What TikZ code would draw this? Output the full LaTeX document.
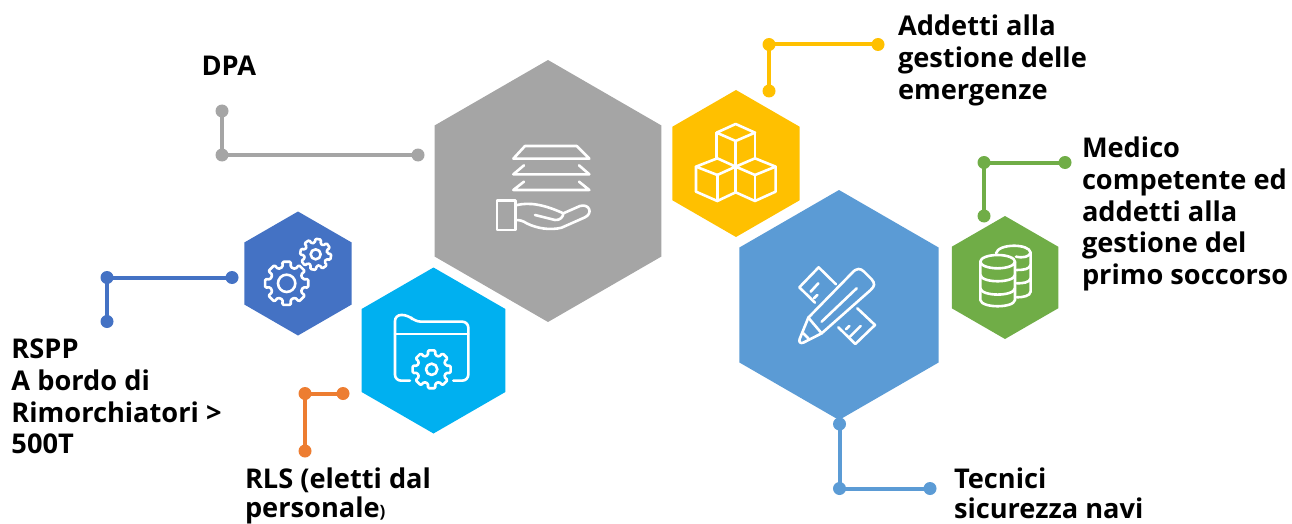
\documentclass[tikz,border=0pt]{standalone}
\usepackage{fontspec}
\setmainfont{Open Sans}
\usetikzlibrary{shapes.geometric}
\definecolor{cgray}{HTML}{A5A5A5}
\definecolor{cyellow}{HTML}{FFC000}
\definecolor{clblue}{HTML}{5B9BD5}
\definecolor{cgreen}{HTML}{70AD47}
\definecolor{cdblue}{HTML}{4472C4}
\definecolor{ccyan}{HTML}{00B0F0}
\definecolor{corange}{HTML}{ED7D31}
\tikzset{
  hexa/.style={regular polygon,regular polygon sides=6,shape border rotate=30,draw=none,fill=#1,inner sep=0pt,outer sep=0pt},
  dotnode/.style={circle,fill=#1,draw=none,minimum size=13pt,inner sep=0pt,outer sep=0pt},
  conn/.style={draw=#1,line width=4pt},
  lab/.style={anchor=base west,inner sep=0pt,outer sep=0pt,align=left,font=\fontsize{27.2pt}{31.7pt}\selectfont\bfseries},
  iconline/.style={draw=white,line width=2.6pt,line cap=round,line join=round},
  zoomed/.style={shift={(#1)},x=0.3333pt,y=-0.3333pt}
}
\newcommand{\gearicon}[6]{% cx cy outer inner hole start
  \draw[iconline,rounded corners=1.2pt] ({#1+#4*cos(#6-14)},{#2+#4*sin(#6-14)})
    \foreach \ga in {0,45,...,315} {
      -- ({#1+#3*cos(#6+\ga-11)},{#2+#3*sin(#6+\ga-11)})
      -- ({#1+#3*cos(#6+\ga+11)},{#2+#3*sin(#6+\ga+11)})
      -- ({#1+#4*cos(#6+\ga+14)},{#2+#4*sin(#6+\ga+14)})
      -- ({#1+#4*cos(#6+\ga+31)},{#2+#4*sin(#6+\ga+31)})
    } -- cycle;
  \draw[iconline] (#1,#2) circle[radius=#5];
}
\begin{document}
\begin{tikzpicture}[x=1pt,y=-1pt]
\useasboundingbox (0,0) rectangle (1292,524);
% hexagons
\node[hexa=cgray,minimum size=262pt] (hgray) at (548,191) {};
\node[hexa=cyellow,minimum size=147pt] (hyellow) at (736,163.5) {};
\node[hexa=clblue,minimum size=230pt] (hlblue) at (839,305) {};
\node[hexa=cgreen,minimum size=123pt] (hgreen) at (1005,277.5) {};
\node[hexa=cdblue,minimum size=124pt] (hdblue) at (298,273.5) {};
\node[hexa=ccyan,minimum size=166pt] (hcyan) at (433.5,350.5) {};
% connectors
\node[dotnode=cgray] (g1) at (222,111) {};
\node[dotnode=cgray] (g2) at (222,155) {};
\node[dotnode=cgray] (g3) at (418,155) {};
\draw[conn=cgray] (g1.center) -- (g2.center) -- (g3.center);
\node[dotnode=cyellow] (y1) at (769,44.5) {};
\node[dotnode=cyellow] (y2) at (878,44.5) {};
\node[dotnode=cyellow] (y3) at (769,91) {};
\draw[conn=cyellow] (y2.center) -- (y1.center) -- (y3.center);
\node[dotnode=cgreen] (v1) at (984,162.5) {};
\node[dotnode=cgreen] (v2) at (1065,162.5) {};
\node[dotnode=cgreen] (v3) at (984,216) {};
\draw[conn=cgreen] (v2.center) -- (v1.center) -- (v3.center);
\node[dotnode=clblue] (b1) at (839.5,424) {};
\node[dotnode=clblue] (b2) at (839.5,488.5) {};
\node[dotnode=clblue] (b3) at (930,488.5) {};
\draw[conn=clblue] (b1.center) -- (b2.center) -- (b3.center);
\node[dotnode=cdblue] (d1) at (107,277.5) {};
\node[dotnode=cdblue] (d2) at (232,277.5) {};
\node[dotnode=cdblue] (d3) at (107,321.5) {};
\draw[conn=cdblue] (d2.center) -- (d1.center) -- (d3.center);
\node[dotnode=corange] (o1) at (305,393.5) {};
\node[dotnode=corange] (o2) at (343,393.5) {};
\node[dotnode=corange] (o3) at (305,451) {};
\draw[conn=corange] (o2.center) -- (o1.center) -- (o3.center);
% labels
\node[lab] (tdpa) at (201.5,75.5) {DPA};
\node[lab,anchor=north west] (tadd) at (898,15) {Addetti alla\\gestione delle\\emergenze};
\node[lab,anchor=north west] (tmed) at (1082,137) {Medico\\competente ed\\addetti alla\\gestione del\\primo soccorso};
\node[lab,anchor=north west] (trspp) at (11.5,339) {RSPP\\A bordo di\\Rimorchiatori >\\500T};
\node[lab,anchor=north west] (trls) at (245,467.5) {RLS (eletti dal\\[-2pt]personale{\fontsize{17pt}{20pt}\selectfont )}};
\node[lab,anchor=north west] (ttec) at (954,468) {Tecnici\\[-2pt]sicurezza navi};
% icon: documents on hand
\begin{scope}[zoomed={430,60}]
\draw[iconline] (250,296) -- (478,296) -- (440,258) -- (285,258) -- cycle;
\draw[iconline] (282,316) -- (250,343) -- (478,343) -- (447,316);
\draw[iconline] (282,365) -- (250,390) -- (478,390) -- (447,365);
\draw[iconline] (201,422) rectangle (257,510);
\draw[iconline] (257,436) .. controls (300,425) and (345,435) .. (400,460) -- (450,438) .. controls (478,430) and (490,460) .. (465,472) -- (395,503) .. controls (360,512) and (320,505) .. (290,490) .. controls (280,483) and (270,480) .. (257,480);
\draw[iconline] (315,465) -- (375,480) .. controls (390,482) and (400,470) .. (400,460);
\end{scope}
% icon: cubes
\begin{scope}[zoomed={430,60}]
\draw[iconline] (917,192) -- (975,218) -- (917,243) -- (860,218) -- cycle;
\draw[iconline] (860,218) -- (860,295);
\draw[iconline] (975,218) -- (975,295);
\draw[iconline] (917,243) -- (917,397);
\draw[iconline] (862,295) -- (917,320) -- (862,345) -- (798,320) -- cycle;
\draw[iconline] (798,320) -- (798,395) -- (862,423) -- (917,397);
\draw[iconline] (862,345) -- (862,423);
\draw[iconline] (975,295) -- (1037,320) -- (975,345) -- (917,320) -- cycle;
\draw[iconline] (1037,320) -- (1037,395) -- (975,423) -- (917,397);
\draw[iconline] (975,345) -- (975,423);
\end{scope}
% icon: gears and folder
\begin{scope}[zoomed={240,200}]
\gearicon{140}{250}{66}{50}{26}{0}
\gearicon{227}{163}{47}{35}{15}{10}
\draw[iconline,rounded corners=6pt] (510,542) -- (465,542) -- (465,345) -- (505,345) -- (525,365) -- (685,365) -- (685,542) -- (640,542);
\draw[iconline] (465,402) -- (685,402);
\gearicon{575}{508}{58}{44}{17}{0}
\end{scope}
% icon: pencil and ruler
\begin{scope}[zoomed={740,190}]
\draw[iconline] (288,283) -- (236,232) -- (178,292) -- (225,338);
\draw[iconline] (212,305) -- (235,280);
\draw[iconline] (222,325) -- (232,315);
\draw[iconline] (352,355) -- (405,405) -- (346,462) -- (295,412);
\draw[iconline] (330,440) -- (362,408);
\draw[iconline] (318,418) -- (328,408);
\draw[iconline] (205,383) -- (335,250) .. controls (350,232) and (362,235) .. (372,245) -- (395,268) .. controls (405,280) and (405,288) .. (392,300) -- (245,430) -- (190,458) .. controls (180,462) and (176,455) .. (179,447) -- cycle;
\draw[iconline] (245,395) -- (350,295);
\draw[iconline] (205,383) -- (245,430);
\draw[iconline] (190,430) -- (205,445);
\end{scope}
% icon: database
\begin{scope}[zoomed={740,190}]
\draw[iconline] (773,215) ellipse[x radius=52,y radius=20];
\draw[iconline] (721,215) -- (721,330) .. controls (725,355) and (821,355) .. (825,330) -- (825,215);
\draw[iconline] (721,255) .. controls (725,280) and (821,280) .. (825,255);
\draw[iconline] (721,295) .. controls (725,320) and (821,320) .. (825,295);
\draw[iconline] (768,190) .. controls (775,160) and (868,160) .. (872,188) -- (872,305) .. controls (870,318) and (850,322) .. (830,322);
\draw[iconline] (830,240) .. controls (850,240) and (868,238) .. (872,225);
\draw[iconline] (830,280) .. controls (850,280) and (868,278) .. (872,265);
\draw[iconline] (828,200) .. controls (850,205) and (868,200) .. (872,188);
\end{scope}
\end{tikzpicture}
\end{document}
